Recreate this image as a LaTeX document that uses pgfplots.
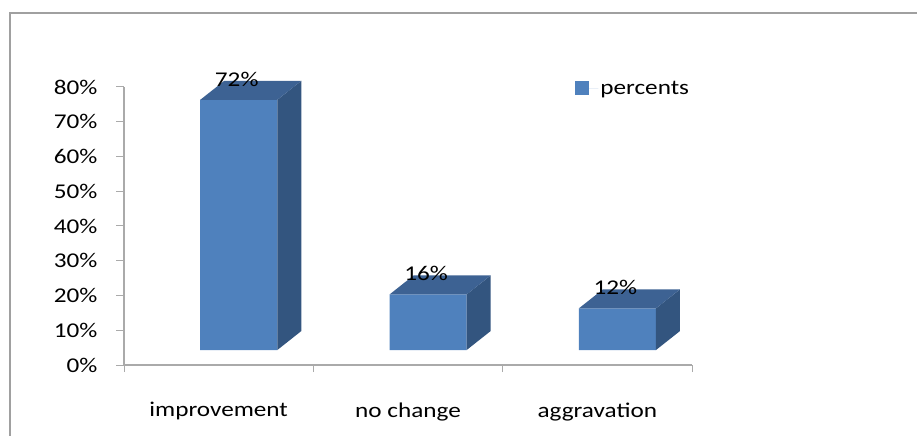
\documentclass[border=0pt]{standalone}
\usepackage{pgfplots}
\pgfplotsset{compat=1.18}
\usepackage{fontspec}
\setmainfont{Carlito}[FakeStretch=1.2]
\definecolor{barfront}{RGB}{79,129,189}
\definecolor{bartop}{RGB}{61,98,147}
\definecolor{barside}{RGB}{51,85,127}
\definecolor{axgray}{RGB}{170,170,170}
\definecolor{bordergray}{RGB}{160,160,160}
\begin{document}
\begin{tikzpicture}[font=\fontsize{21bp}{25bp}\selectfont]
\path[use as bounding box] (0,0) rectangle (917bp,436bp);
\draw[bordergray, line width=2bp] (10bp,-5bp) -- (10bp,423bp) -- (925bp,423bp);
\begin{axis}[
  at={(124bp,71bp)}, anchor=south west,
  scale only axis, width=568bp, height=278bp,
  xmin=-0.5, xmax=2.5, ymin=0, ymax=80,
  clip=false,
  axis lines*=left,
  axis line style={axgray, line width=1.2bp},
  tick align=outside,
  major tick length=8bp, minor tick length=7bp,
  tick style={axgray, line width=1bp},
  ytick={0,10,...,80},
  yticklabel={\pgfmathprintnumber{\tick}\%},
  /pgf/number format/assume math mode=true,
  xtick={0,1,2},
  xticklabels={improvement, no change, aggravation},
  major x tick style={draw=none},
  minor xtick={-0.5,0.5,1.5,2.5},
  xticklabel style={yshift=-26bp},
  yticklabel style={xshift=-15bp},
  ybar stacked, bar width=0.407,
  legend style={at={(0.789,0.996)}, anchor=west, draw=none, fill=none},
  legend image code/.code={\fill[#1] (0bp,-7bp) rectangle (14bp,7bp); \path (0bp,0bp) -- (23bp,0bp);},
]
\addplot[draw=none, fill=none, forget plot] coordinates {(0.106,4.3) (1.106,4.3) (2.106,4.3)};
\addplot[fill=barfront, draw=none]
  coordinates {(0.106,72) (1.106,16) (2.106,12)};
\addlegendentry{percents}
\end{axis}
\begin{axis}[
  at={(124bp,71bp)}, anchor=south west,
  scale only axis, width=568bp, height=278bp,
  xmin=-0.5, xmax=2.5, ymin=0, ymax=80,
  clip=false, hide axis,
]
% side faces
\addplot[fill=barside, draw=none] coordinates {(0.3095,4.3) (0.4365,9.77) (0.4365,81.77) (0.3095,76.3)} -- cycle;
\addplot[fill=barside, draw=none] coordinates {(1.3095,4.3) (1.4365,9.77) (1.4365,25.77) (1.3095,20.3)} -- cycle;
\addplot[fill=barside, draw=none] coordinates {(2.3095,4.3) (2.4365,9.77) (2.4365,21.77) (2.3095,16.3)} -- cycle;
% top faces
\addplot[fill=bartop, draw=none] coordinates {(-0.0975,76.3) (0.3095,76.3) (0.4365,81.77) (0.0295,81.77)} -- cycle;
\addplot[fill=bartop, draw=none] coordinates {(0.9025,20.3) (1.3095,20.3) (1.4365,25.77) (1.0295,25.77)} -- cycle;
\addplot[fill=bartop, draw=none] coordinates {(1.9025,16.3) (2.3095,16.3) (2.4365,21.77) (2.0295,21.77)} -- cycle;
% value labels
\addplot[draw=none, mark=none, point meta=explicit symbolic, nodes near coords,
  every node near coord/.append style={anchor=south, yshift=10bp, xshift=-2bp, text=black}]
  coordinates {(0.106,76.3) [72\%] (1.106,20.3) [16\%] (2.106,16.3) [12\%]};
\end{axis}
\end{tikzpicture}
\end{document}
